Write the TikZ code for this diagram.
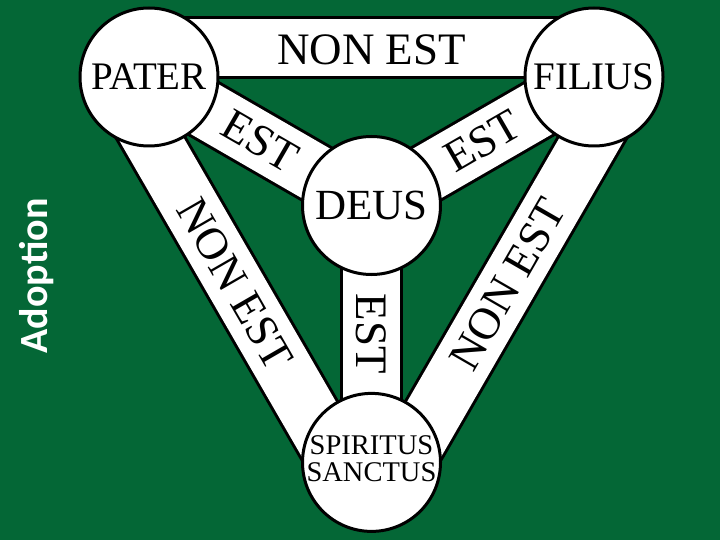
\documentclass[tikz,border=0pt]{standalone}
\usepackage{fontspec}
\setmainfont{Liberation Serif}
\newfontfamily\adfont{Carlito}
\usetikzlibrary{calc}
\pgfdeclarelayer{bg}
\pgfsetlayers{bg,main}
\definecolor{bggreen}{RGB}{4,103,54}
\begin{document}
\begin{tikzpicture}[x=1pt,y=-1pt,
  disc/.style={circle,draw=black,line width=3pt,fill=white,minimum size=138pt,inner sep=0pt,font=\fontsize{39}{40}\selectfont},
  band/.style={draw=black,line width=3pt,double=white,double distance=57pt},
  lbl/.style={font=\fontsize{45}{45}\selectfont,inner sep=0pt}]
\useasboundingbox (0,0) rectangle (720,540);
% circles
\node[disc] (P) at (149,77) {PATER};
\node[disc] (F) at (594,77) {FILIUS};
\node[disc,font=\fontsize{43}{43}\selectfont] (D) at (371.5,205.5) {DEUS};
\node[disc] (S) at (371.5,462.4) {};
\node[font=\fontsize{28.5}{27}\selectfont,align=center,inner sep=0pt] (st) at ($(S.center)+(0,-4)$) {SPIRITUS\\SANCTUS};
% outer band centre lines
\coordinate (pt) at ($(P.center)+(0,-29)$);
\coordinate (ft) at ($(F.center)+(0,-29)$);
\coordinate (pl) at ($(P.center)+(-25.1,14.5)$);
\coordinate (sl) at ($(S.center)+(-25.1,14.5)$);
\coordinate (fr) at ($(F.center)+(25.1,14.5)$);
\coordinate (sr) at ($(S.center)+(25.1,14.5)$);
\begin{pgfonlayer}{bg}
\fill[bggreen] (0,0) rectangle (720,540);
\draw[band] (pt) -- (ft);
\draw[band] (pl) -- (sl);
\draw[band] (fr) -- (sr);
\draw[band] (P.center) -- (D.center);
\draw[band] (F.center) -- (D.center);
\draw[band] (D.center) -- (S.center);
\end{pgfonlayer}
% labels
\node[lbl] (t1) at ($(pt)!0.5!(ft)+(0,2)$) {NON EST};
\node[lbl,rotate=-60] (t2) at ($(pl)!0.5!(sl)$) {NON EST};
\node[lbl,rotate=60] (t3) at ($(fr)!0.5!(sr)$) {NON EST};
\node[lbl,rotate=-30] (t4) at ($(P.center)!0.5!(D.center)$) {EST};
\node[lbl,rotate=30] (t5) at ($(F.center)!0.5!(D.center)$) {EST};
\node[lbl,rotate=-90] (t6) at ($(D.center)!0.5!(S.center)$) {EST};
\node[font=\adfont\bfseries\fontsize{40}{40}\selectfont,text=white,rotate=90,anchor=base,inner sep=0pt] (ad) at (47,276) {Adoption};
\end{tikzpicture}
\end{document}
